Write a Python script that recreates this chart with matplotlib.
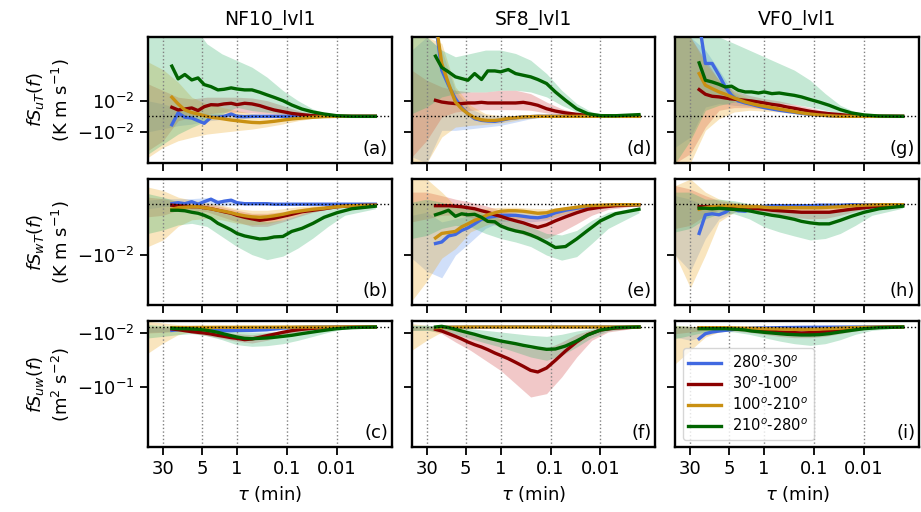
import matplotlib
matplotlib.use('Agg')
import matplotlib.pyplot as plt
from matplotlib.ticker import NullLocator

# ---------------- data ----------------
TAU = [20, 15, 11, 8, 6, 4.5, 3.3, 2.4, 1.8, 1.3, 1.0, 0.7, 0.5, 0.35, 0.25, 0.18,
       0.12, 0.08, 0.05, 0.03, 0.018, 0.01, 0.005, 0.0017]
TAU_ENV = [60, 30, 15, 8, 4, 2, 1, 0.5, 0.25, 0.12, 0.06, 0.03, 0.015, 0.007, 0.0017]

columns = ['NF10_lvl1', 'SF8_lvl1', 'VF0_lvl1']
group_labels = ['280$^o$-30$^o$', '30$^o$-100$^o$', '100$^o$-210$^o$', '210$^o$-280$^o$']
xticks = [30, 5, 1, 0.1, 0.01]
xticklabels = ['30', '5', '1', '0.1', '0.01']
row_labels = ['$fS_{uT}(f)$\n(K m s$^{-1}$)', '$fS_{wT}(f)$\n(K m s$^{-1}$)',
              '$fS_{uw}(f)$\n(m$^2$ s$^{-2}$)']
row_yticks = [[-0.01, 0.01], [-0.01], [-0.1, -0.01]]
row_yticklabels = [['$-10^{-2}$', '$10^{-2}$'], ['$-10^{-2}$'], ['$-10^{-1}$', '$-10^{-2}$']]

# ---- panel (a): NF10, fS_uT ----
a_blu = [-0.0054, 0.0022, -0.0006, -0.0011, -0.0028, -0.0045, -0.0006, -0.0006, 0.0, 0.0015, 0.0, -0.0002,
         0, 0, 0, 0, 0, 0, 0, 0, 0, 0, 0, 0]
a_red = [0.0058, 0.0041, 0.0047, 0.0054, 0.0037, 0.0062, 0.0075, 0.0073, 0.0080, 0.0084, 0.0075, 0.0084,
         0.0080, 0.0069, 0.0054, 0.0041, 0.0030, 0.0019, 0.0011, 0.0004, 0.0002, 0, 0, 0]
a_gld = [0.0123, 0.0080, 0.0041, 0.0024, 0.0015, 0.0004, -0.0006, -0.0011, -0.0017, -0.0024, -0.0028, -0.0034,
         -0.0039, -0.0041, -0.0037, -0.0032, -0.0024, -0.0017, -0.0011, -0.0006, -0.0002, 0, 0, 0]
a_grn = [0.0323, 0.0241, 0.0269, 0.0234, 0.0247, 0.0204, 0.0191, 0.0170, 0.0174, 0.0183, 0.0176, 0.0170,
         0.0170, 0.0155, 0.0138, 0.0122, 0.0101, 0.0073, 0.0047, 0.0028, 0.0015, 0.0004, 0, 0]
a_blu_lo = [-0.0100, -0.0080, -0.0060, -0.0050, -0.0030, -0.0020, -0.0015, -0.0010, -0.0005, -0.0002, 0, 0, 0, 0, 0]
a_blu_hi = [0.0100, 0.0080, 0.0050, 0.0030, 0.0020, 0.0020, 0.0015, 0.0010, 0.0005, 0.0002, 0, 0, 0, 0, 0]
a_red_lo = [-0.0220, -0.0157, -0.0028, -0.0006, 0.0015, 0.0026, 0.0026, 0.0022, 0.0015, 0.0009, 0.0004, 0.0002, 0, 0, 0]
a_red_hi = [0.0209, 0.0166, 0.0123, 0.0112, 0.0123, 0.0123, 0.0123, 0.0118, 0.0101, 0.0069, 0.0037, 0.0015, 0.0004, 0, 0]
a_gld_lo = [-0.0264, -0.0200, -0.0157, -0.0135, -0.0114, -0.0103, -0.0092, -0.0082, -0.0067, -0.0049, -0.0028,
            -0.0013, -0.0004, -0.0002, 0]
a_gld_hi = [0.0350, 0.0300, 0.0220, 0.0123, 0.0080, 0.0058, 0.0037, 0.0019, 0.0011, 0.0004, 0.0002, 0, 0, 0, 0]
a_grn_lo = [-0.0243, -0.0178, -0.0114, -0.0071, -0.0028, 0.0015, 0.0058, 0.0037, 0.0026, 0.0015, 0.0006, 0.0002, 0, 0, 0]
a_grn_hi = [0.06, 0.06, 0.06, 0.06, 0.0467, 0.0402, 0.0359, 0.0316, 0.0252, 0.0166, 0.0101, 0.0047, 0.0015, 0.0004, 0]

# ---- panel (b): NF10, fS_wT ----
b_blu = [0.0001, 0.0003, 0.0001, 0.0005, 0.0, 0.0005, 0.0010, 0.0003, 0.0006, 0.0008, 0.0003, 0.0001,
         0.0001, 0.0001, 0.0001, 0, 0, 0, 0, 0, 0, 0, 0, 0]
b_red = [-0.0002, -0.0003, -0.0004, -0.0005, -0.0005, -0.0007, -0.0009, -0.0012, -0.0015, -0.0018, -0.0022, -0.0026,
         -0.0029, -0.0032, -0.0030, -0.0028, -0.0024, -0.0020, -0.0015, -0.0012, -0.0009, -0.0005, -0.0003, -0.0002]
b_gld = [-0.0010, -0.0007, -0.0006, -0.0005, -0.0005, -0.0007, -0.0009, -0.0012, -0.0014, -0.0017, -0.0020, -0.0023,
         -0.0025, -0.0026, -0.0025, -0.0023, -0.0020, -0.0016, -0.0013, -0.0010, -0.0008, -0.0005, -0.0003, -0.0002]
b_grn = [-0.0012, -0.0012, -0.0013, -0.0016, -0.0018, -0.0022, -0.0028, -0.0038, -0.0044, -0.0051, -0.0058, -0.0063,
         -0.0066, -0.0069, -0.0068, -0.0065, -0.0064, -0.0054, -0.0048, -0.0038, -0.0026, -0.0017, -0.0009, -0.0004]
b_blu_lo = [-0.0009, -0.0005, -0.0004, -0.0004, -0.0003, -0.0003, -0.0002, -0.0001, -0.0001, 0, 0, 0, 0, 0, 0]
b_blu_hi = [0.0008, 0.0011, 0.0011, 0.0011, 0.0013, 0.0008, 0.0005, 0.0003, 0.0001, 0.0001, 0, 0, 0, 0, 0]
b_red_lo = [-0.0025, -0.0022, -0.0012, -0.0012, -0.0015, -0.0025, -0.0035, -0.0044, -0.0044, -0.0035, -0.0025,
            -0.0016, -0.0010, -0.0005, -0.0003]
b_red_hi = [0.0014, 0.0011, 0.0005, 0.0001, 0.0, -0.0005, -0.0012, -0.0018, -0.0018, -0.0015, -0.0009, -0.0005,
            -0.0003, -0.0002, -0.0001]
b_gld_lo = [-0.0084, -0.0071, -0.0044, -0.0031, -0.0028, -0.0031, -0.0038, -0.0041, -0.0039, -0.0031, -0.0022,
            -0.0015, -0.0009, -0.0004, -0.0002]
b_gld_hi = [0.0034, 0.0027, 0.0014, 0.0008, 0.0003, -0.0002, -0.0009, -0.0012, -0.0012, -0.0009, -0.0005, -0.0003,
            -0.0002, -0.0001, -0.0001]
b_grn_lo = [-0.0058, -0.0051, -0.0041, -0.0038, -0.0044, -0.0064, -0.0084, -0.0100, -0.0110, -0.0103, -0.0087,
            -0.0067, -0.0044, -0.0022, -0.0009]
b_grn_hi = [0.0021, 0.0014, 0.0005, -0.0002, -0.0005, -0.0012, -0.0022, -0.0031, -0.0035, -0.0031, -0.0022, -0.0012,
            -0.0005, -0.0003, -0.0001]

# ---- panel (c): NF10, fS_uw ----
c_blu = [-0.0056, -0.0044, -0.0039, -0.0033, -0.0033, -0.0033, -0.0044, -0.0056, -0.0061, -0.0061, -0.0056, -0.0056,
         -0.0056, -0.0050, -0.0044, -0.0033, -0.0017, -0.0011, -0.0006, 0, 0, 0, 0, 0]
c_red = [-0.0033, -0.0044, -0.0061, -0.0078, -0.0089, -0.0100, -0.0117, -0.0139, -0.0156, -0.0178, -0.0189, -0.0211,
         -0.0200, -0.0172, -0.0145, -0.0122, -0.0089, -0.0061, -0.0039, -0.0022, -0.0011, -0.0006, 0, 0]
c_gld = [-0.0011, -0.0010, -0.0009, -0.0008, -0.0007, -0.0006, -0.0006, -0.0005, -0.0005, -0.0005, -0.0005, -0.0004,
         -0.0004, -0.0004, -0.0003, -0.0003, -0.0002, -0.0002, -0.0001, -0.0001, 0, 0, 0, 0]
c_grn = [-0.0022, -0.0028, -0.0028, -0.0033, -0.0039, -0.0050, -0.0067, -0.0089, -0.0117, -0.0145, -0.0167, -0.0189,
         -0.0195, -0.0189, -0.0183, -0.0172, -0.0156, -0.0139, -0.0111, -0.0083, -0.0056, -0.0028, -0.0011, 0]
c_blu_lo = [-0.0089, -0.0078, -0.0067, -0.0061, -0.0067, -0.0078, -0.0083, -0.0083, -0.0072, -0.0044, -0.0017,
            -0.0006, 0, 0, 0]
c_blu_hi = [0.0, -0.0011, -0.0017, -0.0017, -0.0017, -0.0022, -0.0028, -0.0028, -0.0022, -0.0011, -0.0003, 0, 0, 0, 0]
c_red_lo = [-0.0100, -0.0089, -0.0072, -0.0100, -0.0145, -0.0189, -0.0239, -0.0267, -0.0222, -0.0156, -0.0089,
            -0.0044, -0.0017, -0.0006, 0]
c_red_hi = [0.0011, 0, -0.0017, -0.0033, -0.0056, -0.0089, -0.0111, -0.0128, -0.0100, -0.0056, -0.0028, -0.0011,
            -0.0006, 0, 0]
c_gld_lo = [-0.0434, -0.0267, -0.0128, -0.0072, -0.0044, -0.0033, -0.0028, -0.0022, -0.0017, -0.0011, -0.0006, 0, 0, 0, 0]
c_gld_hi = [0.0094, 0.0067, 0.0039, 0.0022, 0.0011, 0.0006, 0, 0, 0, 0, 0, 0, 0, 0, 0]
c_grn_lo = [-0.0183, -0.0156, -0.0128, -0.0111, -0.0145, -0.0211, -0.0295, -0.0322, -0.0311, -0.0278, -0.0222,
            -0.0156, -0.0089, -0.0033, -0.0006]
c_grn_hi = [0.0039, 0.0022, 0.0011, 0, -0.0017, -0.0044, -0.0072, -0.0089, -0.0083, -0.0072, -0.0056, -0.0033,
            -0.0017, -0.0006, 0]

# ---- panel (d): SF8, fS_uT ----
d_blu = [0.06, 0.0297, 0.0200, 0.0114, 0.0056, 0.0017, -0.0015, -0.0026, -0.0030, -0.0032, -0.0026, -0.0015,
         -0.0009, -0.0004, -0.0002, 0, 0, 0, 0, 0, 0, 0, 0, 0]
d_red = [0.0103, 0.0092, 0.0086, 0.0082, 0.0082, 0.0086, 0.0086, 0.0090, 0.0086, 0.0086, 0.0086, 0.0086,
         0.0086, 0.0090, 0.0082, 0.0071, 0.0049, 0.0034, 0.0022, 0.0013, 0.0006, 0.0002, 0, 0]
d_gld = [0.062, 0.0340, 0.0211, 0.0092, 0.0049, 0.0017, -0.0009, -0.0022, -0.0026, -0.0026, -0.0022, -0.0013,
         -0.0009, -0.0004, -0.0002, 0, 0, 0, 0, 0, 0, 0, 0, 0]
d_grn = [0.0387, 0.0314, 0.0286, 0.0254, 0.0243, 0.0232, 0.0275, 0.0237, 0.0292, 0.0292, 0.0286, 0.0301,
         0.0275, 0.0264, 0.0254, 0.0237, 0.0211, 0.0157, 0.0103, 0.0049, 0.0017, 0.0004, 0.0004, 0.0011]
d_blu_lo = [-0.026, -0.030, -0.009, -0.009, -0.008, -0.0069, -0.0058, -0.0037, -0.0015, -0.0004, 0, 0, 0, 0, 0]
d_blu_hi = [0.0426, 0.051, 0.0426, 0.0168, 0.0049, 0.0006, 0, 0, 0, 0, 0, 0, 0, 0, 0]
d_red_lo = [-0.0262, -0.0155, -0.0004, 0.0028, 0.0039, 0.0043, 0.0043, 0.0043, 0.0039, 0.0022, 0.0011, 0.0004, 0, 0, 0]
d_red_hi = [0.0297, 0.0232, 0.0189, 0.0168, 0.0157, 0.0157, 0.0168, 0.0168, 0.0146, 0.0092, 0.0049, 0.0022, 0.0006, 0, 0]
d_gld_lo = [-0.030, -0.030, -0.0133, -0.0069, -0.0058, -0.0052, -0.0043, -0.0026, -0.0011, -0.0002, 0, 0, 0, 0, 0]
d_gld_hi = [0.051, 0.051, 0.0469, 0.0189, 0.0071, 0.0017, 0.0004, 0.0002, 0, 0, 0, 0, 0, 0, 0]
d_grn_lo = [0.0017, 0.0060, 0.0125, 0.0146, 0.0157, 0.0157, 0.0168, 0.0168, 0.0157, 0.0125, 0.0071, 0.0028, 0.0006,
            0.0002, 0.0004]
d_grn_hi = [0.051, 0.051, 0.0426, 0.0383, 0.0404, 0.0426, 0.0426, 0.0404, 0.0361, 0.0275, 0.0168, 0.0082, 0.0028,
            0.0013, 0.0013]

# ---- panel (e): SF8, fS_wT ----
e_blu = [-0.0078, -0.0075, -0.0063, -0.0060, -0.0052, -0.0047, -0.0039, -0.0030, -0.0026, -0.0024, -0.0022, -0.0022,
         -0.0022, -0.0024, -0.0026, -0.0027, -0.0024, -0.0017, -0.0012, -0.0008, -0.0005, -0.0003, -0.0001, -0.0001]
e_red = [-0.0003, -0.0003, -0.0003, -0.0004, -0.0005, -0.0007, -0.0009, -0.0013, -0.0016, -0.0021, -0.0024, -0.0029,
         -0.0033, -0.0037, -0.0042, -0.0046, -0.0041, -0.0033, -0.0025, -0.0017, -0.0010, -0.0006, -0.0003, -0.0001]
e_gld = [-0.0067, -0.0058, -0.0056, -0.0054, -0.0045, -0.0039, -0.0032, -0.0027, -0.0021, -0.0017, -0.0014, -0.0013,
         -0.0013, -0.0014, -0.0016, -0.0018, -0.0017, -0.0012, -0.0009, -0.0006, -0.0003, -0.0002, -0.0001, -0.0001]
e_grn = [-0.0021, -0.0017, -0.0012, -0.0024, -0.0019, -0.0021, -0.0020, -0.0026, -0.0034, -0.0035, -0.0043, -0.0049,
         -0.0053, -0.0056, -0.0061, -0.0067, -0.0076, -0.0086, -0.0084, -0.0069, -0.0052, -0.0033, -0.0019, -0.0010]
e_blu_lo = [-0.0107, -0.0133, -0.0146, -0.0101, -0.0075, -0.0048, -0.0035, -0.0032, -0.0035, -0.0032, -0.0022,
            -0.0014, -0.0008, -0.0004, -0.0001]
e_blu_hi = [-0.0022, -0.0016, -0.0035, -0.0029, -0.0022, -0.0019, -0.0016, -0.0014, -0.0016, -0.0016, -0.0010,
            -0.0006, -0.0003, -0.0001, -0.0001]
e_red_lo = [-0.0035, -0.0029, -0.0022, -0.0021, -0.0026, -0.0035, -0.0045, -0.0055, -0.0065, -0.0068, -0.0055,
            -0.0039, -0.0022, -0.0010, -0.0003]
e_red_hi = [0.0024, 0.0024, 0.0017, 0.0010, 0.0004, -0.0003, -0.0012, -0.0019, -0.0026, -0.0022, -0.0014, -0.0008,
            -0.0004, -0.0002, -0.0001]
e_gld_lo = [-0.0192, -0.0153, -0.0107, -0.0088, -0.0055, -0.0042, -0.0032, -0.0029, -0.0029, -0.0029, -0.0021,
            -0.0012, -0.0006, -0.0003, -0.0001]
e_gld_hi = [0.0050, 0.0050, 0.0024, -0.0003, -0.0009, -0.0008, -0.0006, -0.0006, -0.0008, -0.0009, -0.0006, -0.0003,
            -0.0001, -0.0001, 0]
e_grn_lo = [-0.0068, -0.0062, -0.0048, -0.0042, -0.0045, -0.0058, -0.0068, -0.0075, -0.0084, -0.0101, -0.0111,
            -0.0104, -0.0078, -0.0048, -0.0017]
e_grn_hi = [0.0004, 0.0010, 0.0004, -0.0003, -0.0009, -0.0019, -0.0029, -0.0035, -0.0045, -0.0058, -0.0061, -0.0052,
            -0.0032, -0.0016, -0.0006]

# ---- panel (f): SF8, fS_uw ----
f_blu = [-0.0011, -0.0008, -0.0006, -0.0005, -0.0004, -0.0003, -0.0003, -0.0002, -0.0002, -0.0001, -0.0001, 0,
         0, 0, 0, 0, 0, 0, 0, 0, 0, 0, 0, 0]
f_red = [-0.0039, -0.0067, -0.0111, -0.0156, -0.0200, -0.0250, -0.0295, -0.0334, -0.0378, -0.0434, -0.0473, -0.0528,
         -0.0589, -0.0656, -0.0723, -0.0750, -0.0684, -0.0556, -0.0400, -0.0250, -0.0128, -0.0050, -0.0017, 0]
f_gld = [-0.0011, -0.0006, -0.0003, -0.0002, -0.0001, 0, 0, 0, 0, 0, 0, 0, 0, 0, 0, 0, 0, 0, 0, 0, 0, 0, 0, 0]
f_grn = [0, 0.0011, -0.0011, -0.0039, -0.0067, -0.0094, -0.0122, -0.0156, -0.0183, -0.0211, -0.0233, -0.0256,
         -0.0278, -0.0306, -0.0328, -0.0350, -0.0372, -0.0367, -0.0317, -0.0233, -0.0133, -0.0050, -0.0011, 0]
f_blu_lo = [-0.0056, -0.0056, -0.0028, -0.0017, -0.0011, -0.0006, -0.0003, 0, 0, 0, 0, 0, 0, 0, 0]
f_blu_hi = [0.0028, 0.0028, 0.0011, 0, 0, 0, 0, 0, 0, 0, 0, 0, 0, 0, 0]
f_red_lo = [-0.0056, -0.0044, -0.0111, -0.0250, -0.0389, -0.0556, -0.0723, -0.0945, -0.1167, -0.1111, -0.0834,
            -0.0500, -0.0222, -0.0083, -0.0011]
f_red_hi = [0, 0, -0.0011, -0.0056, -0.0111, -0.0167, -0.0222, -0.0289, -0.0361, -0.0361, -0.0250, -0.0122,
            -0.0044, -0.0011, 0]
f_gld_lo = [-0.0389, -0.0222, -0.0083, -0.0044, -0.0028, -0.0022, -0.0017, -0.0011, -0.0006, -0.0006, -0.0003,
            0, 0, 0, 0]
f_gld_hi = [0.0056, 0.0028, 0, 0, 0, 0, 0, 0, 0, 0, 0, 0, 0, 0, 0]
f_grn_lo = [-0.0056, -0.0056, -0.0083, -0.0122, -0.0195, -0.0267, -0.0334, -0.0417, -0.0500, -0.0556, -0.0473,
            -0.0334, -0.0178, -0.0067, -0.0006]
f_grn_hi = [0.0028, 0.0028, 0.0011, -0.0011, -0.0028, -0.0056, -0.0083, -0.0111, -0.0139, -0.0156, -0.0122,
            -0.0067, -0.0028, -0.0011, 0]

# ---- panel (g): VF0, fS_uT ----
g_blu = [0.06, 0.034, 0.034, 0.0264, 0.0189, 0.0135, 0.0099, 0.0086, 0.0077, 0.0065, 0.0056, 0.0047,
         0.0039, 0.0032, 0.0026, 0.0019, 0.0013, 0.0009, 0.0004, 0, 0, 0, 0, 0]
g_red = [0.0172, 0.0142, 0.0129, 0.0125, 0.0118, 0.0112, 0.0108, 0.0103, 0.0099, 0.0092, 0.0086, 0.0077,
         0.0071, 0.0060, 0.0052, 0.0043, 0.0032, 0.0024, 0.0017, 0.0011, 0.0004, 0, 0, 0]
g_gld = [0.0275, 0.0200, 0.0178, 0.0157, 0.0142, 0.0125, 0.0108, 0.0092, 0.0082, 0.0071, 0.0065, 0.0056,
         0.0047, 0.0039, 0.0030, 0.0022, 0.0015, 0.0009, 0.0004, 0, 0, 0, 0, 0]
g_grn = [0.0344, 0.0232, 0.0221, 0.0206, 0.0189, 0.0194, 0.0168, 0.0157, 0.0157, 0.0150, 0.0157, 0.0146,
         0.0150, 0.0142, 0.0135, 0.0125, 0.0108, 0.0092, 0.0071, 0.0043, 0.0022, 0.0009, 0.0002, 0]
g_blu_lo = [-0.0198, -0.0133, 0.0060, 0.0082, 0.0071, 0.0065, 0.0049, 0.0039, 0.0022, 0.0009, 0, 0, 0, 0, 0]
g_blu_hi = [0.051, 0.051, 0.0426, 0.0297, 0.0146, 0.0092, 0.0071, 0.0049, 0.0032, 0.0017, 0.0009, 0, 0, 0, 0]
g_red_lo = [-0.030, -0.024, -0.0069, 0.0039, 0.0056, 0.0056, 0.0049, 0.0039, 0.0028, 0.0017, 0.0009, 0.0004, 0, 0, 0]
g_red_hi = [0.051, 0.051, 0.0361, 0.0232, 0.0168, 0.0135, 0.0114, 0.0099, 0.0077, 0.0056, 0.0034, 0.0017, 0.0006, 0, 0]
g_gld_lo = [-0.030, -0.030, -0.009, -0.0015, 0.0028, 0.0039, 0.0034, 0.0028, 0.0017, 0.0009, 0.0004, 0, 0, 0, 0]
g_gld_hi = [0.051, 0.051, 0.034, 0.0232, 0.0157, 0.0114, 0.0092, 0.0071, 0.0049, 0.0032, 0.0017, 0.0009, 0, 0, 0]
g_grn_lo = [-0.030, -0.0155, 0.0039, 0.0071, 0.0092, 0.0092, 0.0092, 0.0086, 0.0077, 0.0060, 0.0039, 0.0017,
            0.0006, 0.0002, 0]
g_grn_hi = [0.051, 0.051, 0.051, 0.051, 0.0469, 0.0426, 0.0383, 0.0340, 0.0297, 0.0232, 0.0146, 0.0071, 0.0028,
            0.0009, 0]

# ---- panel (h): VF0, fS_wT ----
h_blu = [-0.0058, -0.0021, -0.0019, -0.0021, -0.0016, -0.0008, -0.0013, -0.0014, -0.0009, -0.0006, -0.0004, -0.0003,
         -0.0003, -0.0003, -0.0003, -0.0003, -0.0003, -0.0002, -0.0002, -0.0002, -0.0001, -0.0001, -0.0001, -0.0001]
h_red = [-0.0005, -0.0005, -0.0005, -0.0005, -0.0005, -0.0005, -0.0006, -0.0007, -0.0008, -0.0009, -0.0010, -0.0012,
         -0.0013, -0.0014, -0.0015, -0.0016, -0.0016, -0.0016, -0.0016, -0.0013, -0.0010, -0.0007, -0.0004, -0.0002]
h_gld = [-0.0010, -0.0007, -0.0005, -0.0004, -0.0003, -0.0003, -0.0004, -0.0005, -0.0005, -0.0005, -0.0006, -0.0007,
         -0.0007, -0.0007, -0.0007, -0.0007, -0.0007, -0.0007, -0.0006, -0.0005, -0.0003, -0.0002, -0.0001, -0.0001]
h_grn = [-0.0008, -0.0008, -0.0009, -0.0008, -0.0009, -0.0010, -0.0011, -0.0012, -0.0014, -0.0017, -0.0019, -0.0022,
         -0.0024, -0.0027, -0.0030, -0.0034, -0.0037, -0.0039, -0.0039, -0.0032, -0.0024, -0.0016, -0.0009, -0.0004]
h_blu_lo = [-0.0101, -0.0133, -0.0068, -0.0029, -0.0016, -0.0012, -0.0008, -0.0005, -0.0004, -0.0003, -0.0002,
            -0.0002, -0.0001, -0.0001, -0.0001]
h_blu_hi = [0.0017, 0.0010, -0.0003, -0.0003, -0.0001, -0.0001, -0.0001, -0.0001, -0.0001, -0.0001, -0.0001,
            -0.0001, -0.0001, 0, 0]
h_red_lo = [-0.0048, -0.0042, -0.0022, -0.0012, -0.0012, -0.0014, -0.0017, -0.0021, -0.0026, -0.0029, -0.0028,
            -0.0022, -0.0014, -0.0008, -0.0003]
h_red_hi = [0.0037, 0.0030, 0.0017, 0.0007, 0.0003, 0.0, -0.0001, -0.0003, -0.0004, -0.0005, -0.0005, -0.0003,
            -0.0002, -0.0001, -0.0001]
h_gld_lo = [-0.0101, -0.0166, -0.0101, -0.0035, -0.0016, -0.0012, -0.0012, -0.0014, -0.0016, -0.0016, -0.0014,
            -0.0010, -0.0006, -0.0003, -0.0001]
h_gld_hi = [0.0037, 0.0050, 0.0024, 0.0010, 0.0004, 0.0001, -0.0001, -0.0001, -0.0001, -0.0001, -0.0001, -0.0001,
            -0.0001, 0, 0]
h_grn_lo = [-0.0055, -0.0048, -0.0029, -0.0019, -0.0019, -0.0029, -0.0045, -0.0055, -0.0063, -0.0071, -0.0068,
            -0.0058, -0.0042, -0.0022, -0.0008]
h_grn_hi = [0.0024, 0.0024, 0.0010, 0.0010, 0.0007, 0.0001, -0.0006, -0.0009, -0.0012, -0.0016, -0.0016, -0.0012,
            -0.0008, -0.0004, -0.0001]

# ---- panel (i): VF0, fS_uw ----
i_blu = [-0.0195, -0.0111, -0.0083, -0.0067, -0.0056, -0.0044, -0.0033, -0.0028, -0.0022, -0.0017, -0.0017, -0.0014,
         -0.0011, -0.0009, -0.0008, -0.0006, -0.0005, -0.0004, -0.0003, -0.0002, -0.0001, 0, 0, 0]
i_red = [-0.0017, -0.0017, -0.0017, -0.0017, -0.0022, -0.0028, -0.0033, -0.0039, -0.0044, -0.0056, -0.0067, -0.0072,
         -0.0083, -0.0089, -0.0094, -0.0100, -0.0094, -0.0083, -0.0067, -0.0044, -0.0028, -0.0011, -0.0006, 0]
i_gld = [-0.0011, -0.0011, -0.0011, -0.0011, -0.0011, -0.0014, -0.0017, -0.0020, -0.0022, -0.0025, -0.0028, -0.0031,
         -0.0033, -0.0036, -0.0039, -0.0039, -0.0039, -0.0036, -0.0028, -0.0020, -0.0011, -0.0006, -0.0003, 0]
i_grn = [-0.0028, -0.0028, -0.0028, -0.0028, -0.0028, -0.0033, -0.0039, -0.0050, -0.0067, -0.0078, -0.0089, -0.0100,
         -0.0111, -0.0122, -0.0128, -0.0133, -0.0133, -0.0128, -0.0111, -0.0083, -0.0056, -0.0028, -0.0011, 0]
i_blu_lo = [-0.0167, -0.0222, -0.0139, -0.0083, -0.0056, -0.0033, -0.0017, -0.0011, -0.0006, -0.0003, 0, 0, 0, 0, 0]
i_blu_hi = [0, 0, -0.0011, -0.0011, -0.0006, -0.0003, 0, 0, 0, 0, 0, 0, 0, 0, 0]
i_red_lo = [-0.0111, -0.0083, -0.0056, -0.0056, -0.0067, -0.0089, -0.0122, -0.0156, -0.0178, -0.0178, -0.0156,
            -0.0111, -0.0067, -0.0028, -0.0006]
i_red_hi = [0.0011, 0.0011, 0, -0.0011, -0.0017, -0.0028, -0.0039, -0.0050, -0.0056, -0.0056, -0.0044, -0.0028,
            -0.0011, -0.0006, 0]
i_gld_lo = [-0.0611, -0.0389, -0.0167, -0.0083, -0.0056, -0.0056, -0.0056, -0.0067, -0.0067, -0.0061, -0.0044,
            -0.0028, -0.0011, -0.0006, 0]
i_gld_hi = [0.0028, 0.0011, 0, 0, 0, 0, 0, 0, 0, 0, 0, 0, 0, 0, 0]
i_grn_lo = [-0.0195, -0.0139, -0.0083, -0.0067, -0.0083, -0.0122, -0.0178, -0.0233, -0.0278, -0.0306, -0.0278,
            -0.0211, -0.0122, -0.0056, -0.0011]
i_grn_hi = [0.0028, 0.0011, -0.0011, -0.0017, -0.0022, -0.0033, -0.0044, -0.0056, -0.0067, -0.0067, -0.0056,
            -0.0039, -0.0022, -0.0011, 0]

# ---------------- styling ----------------
line_colors = ['#4169E1', '#8B0000', '#C99012', '#006400']
fill_colors = ['#6495ED', '#D24B4B', '#EDAA28', '#3CB371']
row_ylim = [(-0.03, 0.051), (-0.02, 0.005), (-0.2, 0.01)]

means = {
    'a': [a_blu, a_red, a_gld, a_grn], 'b': [b_blu, b_red, b_gld, b_grn], 'c': [c_blu, c_red, c_gld, c_grn],
    'd': [d_blu, d_red, d_gld, d_grn], 'e': [e_blu, e_red, e_gld, e_grn], 'f': [f_blu, f_red, f_gld, f_grn],
    'g': [g_blu, g_red, g_gld, g_grn], 'h': [h_blu, h_red, h_gld, h_grn], 'i': [i_blu, i_red, i_gld, i_grn],
}
envs = {
    'a': [(a_blu_lo, a_blu_hi), (a_red_lo, a_red_hi), (a_gld_lo, a_gld_hi), (a_grn_lo, a_grn_hi)],
    'b': [(b_blu_lo, b_blu_hi), (b_red_lo, b_red_hi), (b_gld_lo, b_gld_hi), (b_grn_lo, b_grn_hi)],
    'c': [(c_blu_lo, c_blu_hi), (c_red_lo, c_red_hi), (c_gld_lo, c_gld_hi), (c_grn_lo, c_grn_hi)],
    'd': [(d_blu_lo, d_blu_hi), (d_red_lo, d_red_hi), (d_gld_lo, d_gld_hi), (d_grn_lo, d_grn_hi)],
    'e': [(e_blu_lo, e_blu_hi), (e_red_lo, e_red_hi), (e_gld_lo, e_gld_hi), (e_grn_lo, e_grn_hi)],
    'f': [(f_blu_lo, f_blu_hi), (f_red_lo, f_red_hi), (f_gld_lo, f_gld_hi), (f_grn_lo, f_grn_hi)],
    'g': [(g_blu_lo, g_blu_hi), (g_red_lo, g_red_hi), (g_gld_lo, g_gld_hi), (g_grn_lo, g_grn_hi)],
    'h': [(h_blu_lo, h_blu_hi), (h_red_lo, h_red_hi), (h_gld_lo, h_gld_hi), (h_grn_lo, h_grn_hi)],
    'i': [(i_blu_lo, i_blu_hi), (i_red_lo, i_red_hi), (i_gld_lo, i_gld_hi), (i_grn_lo, i_grn_hi)],
}

plt.rcParams['font.family'] = ['DejaVu Sans']
plt.rcParams['mathtext.fontset'] = 'dejavusans'

fig, axes = plt.subplots(3, 3, figsize=(9.21, 5.12), dpi=100)
fig.subplots_adjust(left=0.1607, right=0.9978, top=0.9277, bottom=0.127, wspace=0.082, hspace=0.127)

for c in range(3):
    for r in range(3):
        ax = axes[r, c]
        letter = chr(ord('a') + 3 * c + r)
        for k in range(4):
            lo, hi = envs[letter][k]
            ax.fill_between(TAU_ENV, lo, hi, color=fill_colors[k], alpha=0.3, lw=0, zorder=1)
        for k in range(4):
            ax.plot(TAU, means[letter][k], color=line_colors[k], lw=2.4, zorder=3,
                    label=group_labels[k])
        ax.axhline(0, color='k', ls=':', lw=1.0, zorder=4)
        ax.set_xscale('log')
        ax.set_xlim(60, 0.0008)
        ax.set_ylim(*row_ylim[r])
        ax.set_xticks(xticks)
        ax.xaxis.set_minor_locator(NullLocator())
        ax.grid(True, axis='x', color='gray', ls=':', lw=1.0, zorder=0)
        ax.set_yticks(row_yticks[r])
        ax.yaxis.set_minor_locator(NullLocator())
        if r == 2:
            ax.set_xticklabels(xticklabels)
            ax.set_xlabel(r'$\tau$ (min)', fontsize=13)
        else:
            ax.set_xticklabels([])
        if c == 0:
            ax.set_yticklabels(row_yticklabels[r])
            ax.set_ylabel(row_labels[r], fontsize=13)
        else:
            ax.set_yticklabels([])
        if r == 0:
            ax.set_title(columns[c], fontsize=13.5, pad=9)
        ax.tick_params(axis='both', labelsize=13, length=6, width=1.3)
        for sp in ax.spines.values():
            sp.set_linewidth(1.7)
        ax.text(0.985, 0.04, '(%s)' % letter, transform=ax.transAxes, ha='right', va='bottom',
                fontsize=13, zorder=6)

axes[2, 2].legend(loc='lower left', fontsize=10.5, handlelength=2.2, labelspacing=0.3,
                  borderpad=0.4, framealpha=0.8, edgecolor='#cccccc')

fig.savefig('out.png', dpi=100)
